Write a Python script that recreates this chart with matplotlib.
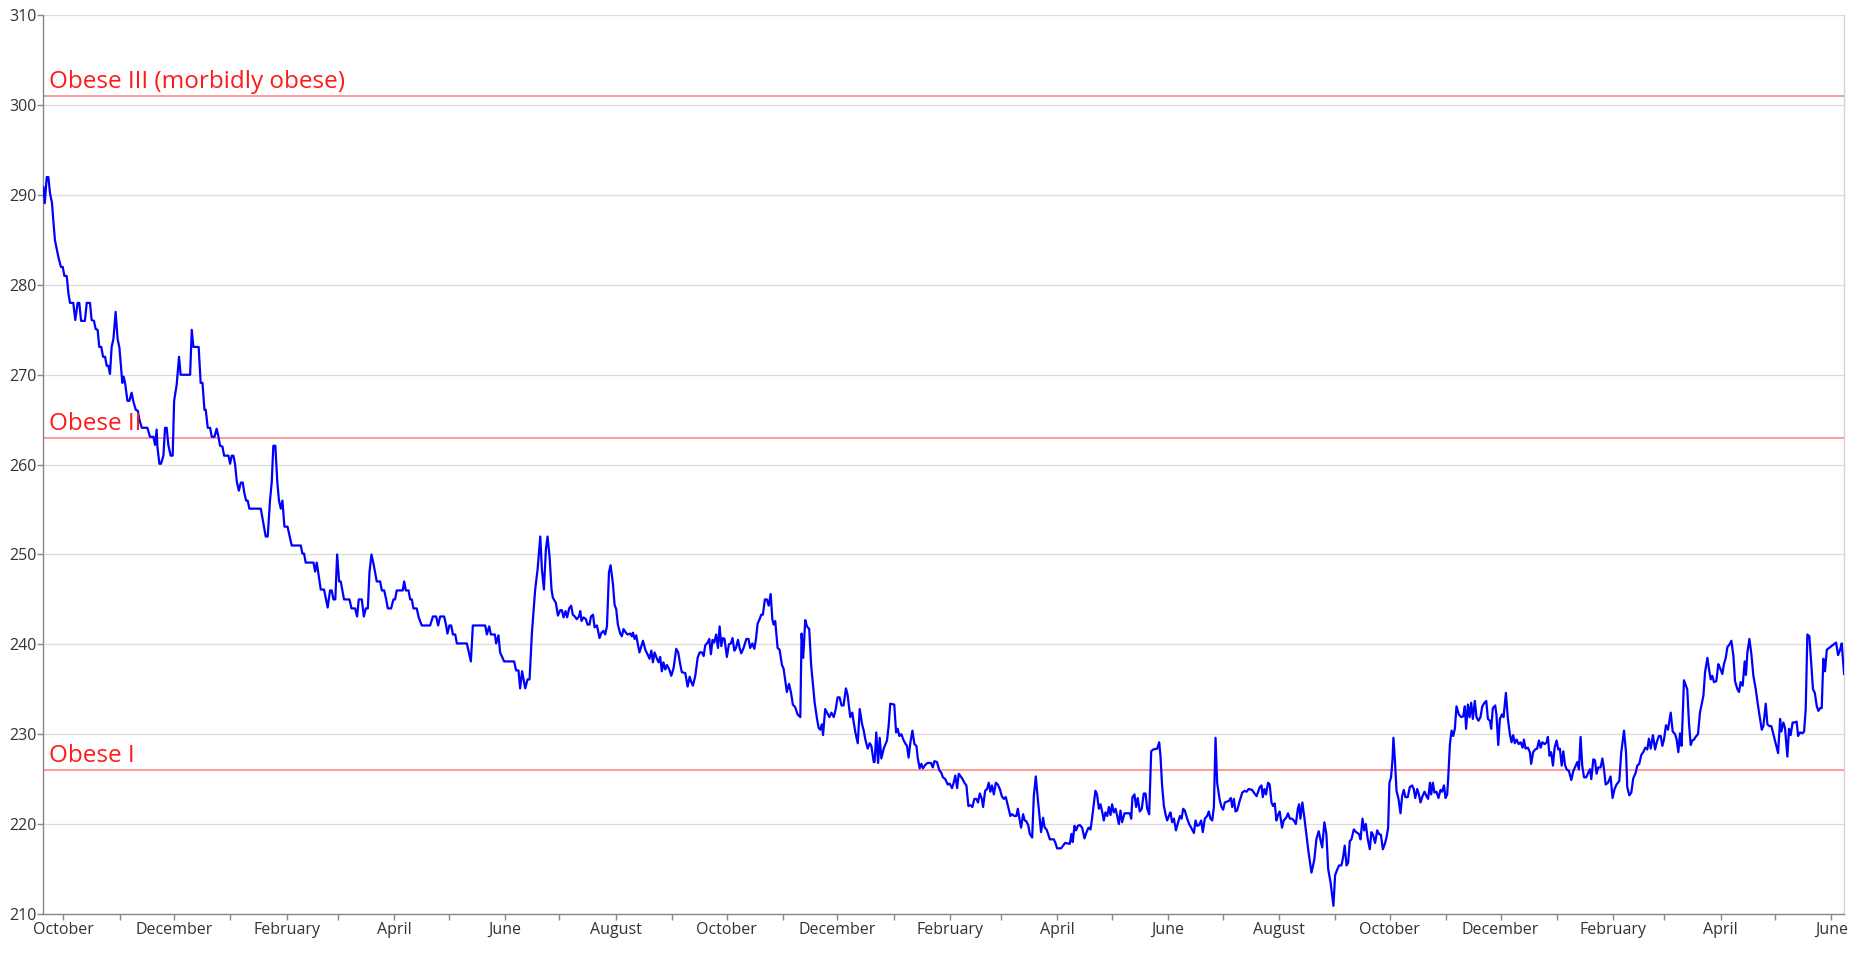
"""
Weight log over roughly three years, with the BMI obesity class
boundaries drawn as reference lines.
"""

import matplotlib
matplotlib.use('Agg')
import matplotlib.pyplot as plt
import matplotlib.dates as mdates
import pandas as pd

plt.rcParams['font.family'] = ['Open Sans', 'DejaVu Sans']

# ── Data ─────────────────────────────────────────────────────────────────────

START_DATE = "2016-09-20"

# days since START_DATE
day_offset = [
    0, 0.8, 1.9, 2.8, 3.7, 4.8, 5.5, 6.4, 8.3, 9.7, 10.7, 11.6, 12.9, 13.8, 14.7, 16.5,
    17.6, 18.9, 19.8, 20.8, 22.9, 23.9, 25.7, 26.6, 27.9, 28.8, 29.9, 30.8, 31.9, 32.9,
    34.0, 34.9, 35.8, 36.7, 37.6, 38.6, 39.8, 40.9, 41.9, 43.5, 44.2, 45.0, 46.3, 47.4,
    48.6, 49.6, 50.9, 52.0, 52.9, 54.2, 57.3, 58.7, 60.6, 61.5, 62.4, 62.8, 63.9, 64.8,
    66.1, 67.0, 67.9, 68.8, 70.1, 71.2, 72.0, 73.4, 74.7, 75.6, 80.8, 81.7, 82.6, 85.5,
    86.6, 87.6, 88.7, 89.4, 90.5, 91.8, 92.7, 94.2, 95.4, 96.4, 97.3, 98.6, 99.5, 101.9,
    102.8, 103.7, 104.6, 105.5, 106.5, 107.6, 108.7, 109.8, 110.5, 111.6, 112.5, 113.4,
    119.7, 121.1, 122.4, 123.5, 124.8, 125.7, 126.6, 127.7, 128.8, 129.7, 130.7, 131.6,
    132.7, 134.4,
    136.7, 141.7, 142.6, 143.5, 144.4, 148.7, 149.6, 150.5, 152.0, 152.7, 154.5, 155.6,
    156.5, 157.8, 158.7, 159.7, 160.7, 161.7, 162.8, 163.7, 165.5, 168.5, 169.6, 171.6,
    172.7, 173.6, 175.3, 176.4, 177.5, 178.6, 179.5, 180.6, 181.8, 183.5, 185.4, 186.3,
    187.6, 188.7, 189.6, 191.4, 192.7, 193.6, 194.5, 197.8, 198.6, 199.5, 201.0, 201.9,
    202.8, 203.7, 205.5, 206.6,
    208.3, 212.9, 214.4, 216.2, 217.3, 218.4, 220.6, 221.7, 222.4, 223.5, 224.5, 225.4,
    226.7, 227.6, 233.1, 234.2, 235.3, 236.4, 243.2, 244.1, 245.4, 246.3, 248.5, 249.2,
    250.5, 251.4, 252.7, 253.6, 259.1, 260.2, 261.5, 262.4, 263.5, 265.2, 266.5, 267.6,
    268.9, 270.7, 272.0, 273.5, 274.4, 275.5, 276.6, 277.5, 278.6, 279.7, 280.4, 282.1,
    283.2, 284.5, 285.4, 286.3, 287.4, 288.3, 289.4, 290.5, 291.4, 292.5, 293.6, 294.8,
    295.5, 296.2, 297.3, 298.6, 299.5, 300.6, 301.4, 302.5, 303.4, 304.7, 306.1, 307.2,
    308.3, 309.2, 310.2, 311.3, 312.2, 313.5, 314.4, 315.3, 316.2, 317.5, 318.4, 319.3,
    320.6, 321.5, 323.0, 323.9, 324.5, 325.4, 326.3, 327.2, 328.1,
    330.0, 331.3, 332.5, 333.6, 334.6, 335.5, 336.4, 337.7, 338.6, 339.5, 340.4, 341.3,
    342.3, 343.2, 344.5, 345.6, 346.9, 348.3, 349.4, 350.5, 351.4, 353.3, 354.6, 355.7,
    356.6, 357.5, 358.8, 360.1, 361.2, 362.5, 363.4, 364.3, 365.6, 366.5, 367.4, 368.3,
    369.2, 370.3, 371.3, 372.2, 373.1, 374.0, 374.9, 376.2, 377.3, 378.4, 379.3, 380.3,
    381.2, 382.3, 383.2, 384.1, 385.4, 386.9, 388.1, 389.0, 390.2, 391.3, 392.2, 393.1,
    394.2, 395.1, 396.0, 397.1, 398.2, 399.2, 400.3, 401.2, 401.9, 402.8, 404.1, 405.2,
    406.5, 407.4, 408.7, 409.2, 410.4, 411.5, 412.5, 413.8, 415.1, 416.6, 417.3, 418.2,
    419.3, 420.3, 421.5, 422.6, 423.6, 424.5, 425.8, 426.7, 427.6, 428.5, 429.1, 430.3,
    431.3, 432.6, 433.7, 435.0, 436.1, 437.1, 438.2, 439.3, 440.4, 441.7, 442.6, 444.1,
    445.2, 446.0, 446.9, 448.2, 449.3, 450.6, 451.5, 452.4, 453.7, 454.8, 455.7, 457.0,
    457.5, 458.4, 459.4, 460.3, 461.2, 462.5, 464.3, 465.2, 466.1, 468.3, 469.3, 470.2,
    471.1, 472.2, 473.5, 474.6, 475.3, 476.2, 477.2, 478.3, 479.4, 480.5, 481.2, 482.3,
    483.2, 484.1, 485.4, 486.7, 488.5, 489.5, 490.4, 491.8, 493.1, 494.2, 495.1, 496.4,
    497.7, 498.8, 500.1, 501.0, 501.9, 502.9, 503.8,
    505.6, 506.9, 508.0, 509.1, 510.2, 511.3, 512.4, 513.5, 514.4, 515.4, 516.5, 517.2,
    518.3, 519.4, 520.3, 521.2, 522.1, 523.1, 524.2, 525.3, 526.4, 527.5, 528.6, 529.7,
    531.0, 532.2, 533.1, 534.4, 535.5, 536.3, 537.2, 538.1, 539.2, 540.1, 541.0, 542.0,
    542.9, 544.2, 545.1, 546.2, 547.3, 548.2, 549.1, 550.2, 551.1, 552.1, 553.0, 553.9,
    555.2, 556.1, 557.0, 557.9, 560.1, 561.2, 562.3, 564.9, 565.8, 566.5, 567.5, 568.4,
    569.3, 570.4, 571.7, 573.0, 574.1, 575.2, 576.3, 577.2, 578.1, 579.0, 579.9, 580.9,
    581.8, 582.7, 583.6, 584.5, 585.5, 586.4, 587.3, 588.2, 589.1, 590.1, 591.0, 591.9,
    592.8, 593.7, 595.0, 596.5, 597.9, 598.7, 599.4, 600.5, 601.4, 602.3, 603.4, 604.5,
    605.6, 606.6, 607.5, 608.6, 609.7, 610.8, 613.0, 614.1, 614.8, 615.7, 616.7, 617.8,
    618.5, 619.6, 620.3, 621.2, 622.2, 623.3, 624.4, 625.5, 626.4, 627.3, 628.2, 629.5,
    630.6, 631.7, 633.2, 634.1, 635.0, 636.1, 637.2, 638.1, 639.2, 640.5, 641.4, 642.3,
    643.3, 644.2, 645.1, 646.0, 647.3, 648.4, 649.3, 650.2, 651.5, 652.6, 653.5, 654.3,
    655.2, 656.1, 657.0, 658.3, 659.8, 661.1, 662.2, 663.3, 665.3, 666.2, 667.7,
    669.4, 670.4, 671.1, 672.0, 672.9, 674.0, 674.9, 675.9, 676.8, 677.7, 678.6, 679.5,
    680.4, 681.7, 682.6, 684.0, 685.0, 686.0, 687.2, 688.2, 689.3, 690.4, 691.1, 691.8,
    692.9, 694.0, 695.1, 696.2, 697.2, 697.9, 698.8, 699.5, 700.6, 701.9, 702.8, 703.8,
    705.0, 706.1, 707.1, 708.4, 709.3, 710.0, 710.9, 712.0, 713.1, 714.4, 715.3, 716.2,
    717.2, 718.1, 719.0, 719.9, 721.2, 722.5, 724.0, 724.9, 726.0, 726.9, 727.8, 728.9,
    730.0, 730.9, 731.8, 732.9, 734.1, 735.0, 736.1, 737.2, 738.3, 739.2, 740.1, 740.8,
    741.7, 742.5, 743.0, 743.8, 744.7, 745.8, 746.9, 747.8, 748.7, 749.6, 750.9, 752.0,
    753.3, 754.2, 755.0, 756.1, 757.0, 757.9, 759.0, 760.1, 761.2, 762.1, 763.1, 763.8,
    764.7, 765.6, 766.7, 767.8, 768.9, 769.8, 770.8, 771.7, 772.6, 773.3, 774.1, 775.0,
    775.9, 776.8, 777.7, 779.0, 780.3, 781.4, 782.3, 783.0, 784.0, 784.9, 785.8, 786.7,
    787.8, 788.7, 789.8, 790.9, 791.9, 793.1, 794.1, 795.0, 796.1, 796.8, 797.7, 799.0,
    799.7, 800.7, 801.6, 802.7, 803.6, 804.9, 806.0, 807.1, 808.0, 808.9, 809.8, 810.8,
    811.9, 813.0, 814.1, 814.8, 815.7, 817.0, 818.1, 818.8, 819.9, 821.0, 822.1, 823.1,
    824.0, 824.9, 826.2, 827.3, 828.0, 828.9, 829.8, 830.8, 831.7, 832.8, 833.7, 834.6,
    835.6, 836.5, 837.4, 838.3, 839.6, 840.9, 842.0, 843.3, 844.2, 845.1, 846.0, 846.9,
    847.9, 849.1, 850.2, 851.2, 851.9, 853.0, 853.9, 854.8, 855.7, 857.0, 858.0, 858.9,
    859.8, 861.1, 862.5, 863.6, 864.7, 865.8, 867.3, 868.4, 869.9, 871.0, 871.7, 872.8,
    873.9, 875.0, 876.3, 877.2, 878.3, 879.4, 880.5, 881.6, 882.7, 883.6, 884.6, 885.8,
    887.0, 887.9, 889.1, 890.1, 891.0, 891.9, 893.0, 894.1, 895.6, 896.7, 898.0, 898.9,
    899.8, 900.7, 901.6, 902.9, 904.7, 905.7, 906.6, 907.5, 908.4, 909.3, 910.6, 911.7,
    912.6, 913.6, 914.5, 915.8, 916.7, 917.6, 918.5, 919.4, 920.7, 921.8, 922.7, 924.0,
    924.9, 925.9, 926.8, 927.7, 929.0, 930.1, 931.0, 932.3, 933.2, 934.1, 935.2, 936.3,
    937.0, 937.8, 938.9, 940.0, 941.1, 942.4, 943.7, 944.8, 945.7, 946.6, 947.9, 948.8,
    949.9, 951.0, 952.1, 953.4, 954.7, 955.8, 956.5, 957.6, 958.5, 959.8, 960.7, 961.6,
    962.7, 963.8, 964.9, 965.7, 966.8, 968.1, 969.0, 969.9, 970.8, 971.9, 973.0, 973.9,
    974.9, 976.0, 976.9, 977.8, 978.7, 979.6, 980.5, 981.5, 982.8, 984.0, 985.5, 986.6,
    987.7, 988.8, 989.7, 991.0,
]

# body weight, lb
weight_lb = [
    290.9, 289.1, 292, 292, 290.2, 289.1, 287.2, 285, 283.1, 282, 282, 281, 281, 279.1, 278, 278,
    276.1, 278, 278, 276, 276, 278, 278, 276.1, 276, 275.1, 275, 273.1, 273.1, 272,
    272, 271, 271, 270.1, 273.1, 274, 277, 274, 273, 269.1, 269.8, 269.1, 267.1, 267.1,
    268, 267, 266.1, 266, 265, 264.1, 264.1, 263.1, 263.1, 262.2, 263.9, 262, 260.1, 260.1,
    261, 264.1, 264.1, 262.2, 261, 261, 267.1, 268.9, 272, 270, 270, 275, 273.1, 273.1,
    269.1, 269.1, 266.1, 266.1, 264.1, 264.1, 263.1, 263.1, 264, 263.1, 262.1, 262, 261, 261,
    260.1, 261, 261, 260.1, 258.1, 257.1, 258, 258, 257, 256, 256, 255.1,
    255.1, 253.5, 252, 252, 256.1, 258, 262.1, 262.1, 258, 256, 255.1, 256,
    253.1, 253.1,
    251, 251, 250.1, 250.1, 249.1, 249.1, 248.1, 249.1, 247, 246.1, 246.1, 245,
    244.1, 246, 246, 245, 245, 250, 247, 247, 245, 245, 244, 244,
    243.1, 245, 245, 243.1, 244, 244, 248, 250, 248.9, 247, 247, 246,
    246, 245, 244, 244, 245, 245, 246, 246, 247, 246, 246, 245,
    245, 244, 244, 243,
    242.1, 242.1, 243.1, 243.1, 242.1, 243.1, 243.1, 242.1, 241.2, 242.1, 242.1, 241.1,
    241.1, 240.1, 240.1, 239.1, 238.1, 242.1, 242.1, 241.1, 242, 241.1, 241.1, 240.1,
    241, 239.1, 238.5, 238.1, 238.1, 237.1, 237.1, 235.1, 237, 235.1, 236.1, 236.1,
    241.3, 246.1, 248.3, 252, 248.3, 246.1, 250.6, 252, 249.8, 246.1, 245.2, 244.6,
    243.2, 243.8, 243.8, 243, 243.7, 243, 244, 244.3, 243.3, 243.1, 242.8, 243.1,
    243.7, 242.6, 243, 242.8, 242.2, 242.2, 243.1, 243.3, 241.9, 242.1, 240.7, 241.3,
    241.5, 241.1, 242, 248, 248.8, 246.7, 244.4, 243.9, 242.2, 241.2, 240.9, 241.7,
    241.3, 241.1, 241.2, 240.9, 241.3, 240.6, 241, 240, 239.1,
    240.4, 239.4, 238.9, 238.4, 239.3, 238, 239.1, 238.4, 238, 238.6, 237, 238,
    237.2, 237.7, 237.2, 236.5, 237.4, 239.5, 239.1, 237.8, 236.9, 236.8, 235.3, 236.4,
    235.8, 235.4, 236.5, 238.5, 239.1, 239.1, 238.7, 239.9, 240.2, 240.6, 238.9, 240.5,
    240.2, 241.1, 239.6, 242, 239.8, 240.7, 240.6, 238.6, 240, 240.1, 240.7, 239.3,
    239.6, 240.5, 239.6, 239, 239.6, 240.6, 240.6, 239.6, 240.1, 239.5, 240.6, 242.3,
    242.8, 243.3, 243.3, 245, 245, 244.3, 245.6, 242.8, 242.2, 242.6, 239.6, 239.4,
    237.7, 237.3, 235.4, 234.7, 235.6, 234.6, 233.3, 233, 232.2, 231.9, 241.2, 238.5,
    242.7, 242, 241.7, 237.6, 235.4, 233.5, 231.7, 230.7, 230.5, 231.1, 229.9, 232.8,
    232.4, 231.9, 232.4, 231.9, 232.8, 234.1, 234.1, 233.2, 233.2, 235.1, 234.4, 231.9,
    232.4, 231.3, 230.2, 229, 232.8, 231.1, 230.4, 229.4, 228.4, 229, 228.7, 226.9,
    226.9, 230.2, 226.8, 229.6, 227.3, 228.4, 229.3, 230.9, 233.4, 233.3, 230.2, 230.6,
    229.8, 230, 229.3, 228.9, 228.7, 227.4, 229.1, 230.4, 228.9, 228.7, 227.4, 226.2,
    226.7, 226.2, 226.6, 226.8, 226.8, 226.3, 227, 226.9, 226, 225.7, 225.2, 225,
    224.4, 224.5, 224, 224.6, 225.4, 224, 225.6,
    225.1, 224.6, 224.3, 222, 222.1, 221.9, 222.8, 222.8, 222.4, 223.4, 222.8, 221.9,
    223.7, 223.9, 224.6, 223.6, 224.3, 223.3, 224.6, 224.4, 223.9, 223.1, 222.8, 223,
    221.9, 220.9, 221.1, 220.9, 220.9, 221.7, 220.6, 219.6, 221.1, 220.4, 220.3, 219.9,
    218.9, 218.5, 223.1, 225.3, 222.8, 220.9, 219.1, 220.7, 219.6, 219.4, 218.9, 218.3,
    218.3, 218.3, 217.9, 217.3, 217.3, 217.6, 217.9, 217.8, 218.9, 218, 219.8, 219.3,
    219.8, 219.9, 219.6, 218.4, 219.1, 219.6, 219.4, 220.7, 222.2, 223.7, 223.3, 221.7,
    222.2, 221.4, 220.4, 221.3, 220.9, 221.9, 221, 222.2, 221.3, 221.7, 220.9, 220,
    221.5, 220.2, 221.2, 221.2, 221.2, 220.6, 223, 223.3, 221.9, 222.9, 221.4, 221.7,
    223.4, 223.4, 221.7, 221.1, 228.1, 228.3, 228.4, 229.1, 227.6, 224.3, 222, 220.9,
    220.4, 221, 221.3, 220.2, 220.6, 219.3, 220.1, 220.9, 220.6, 221.7, 221.5, 220.6,
    220, 219.6, 219, 220.4, 219.8, 219.9, 220.4, 219.1, 220.6, 220.9, 221.4, 220.6,
    220.4, 221.9, 229.6, 224.6, 222.8, 221.9, 221.6, 222.4, 222.5, 222.6, 222.9, 221.9,
    222.8, 221.4, 221.5, 222.5, 223.5, 223.7, 223.6, 223.9, 223.8, 223.5, 223.1,
    224.1, 224.3, 223, 223.9, 223.3, 224.6, 224.4, 222.4, 222, 222.3, 220.4, 221,
    221.4, 219.6, 220.4, 220.7, 221.2, 220.6, 220.6, 220.4, 220, 221.7, 222.2, 220.6,
    222.4, 220.7, 218.9, 217, 215.6, 214.6, 215.4, 216.1, 218.3, 219.2, 218.3, 217.4,
    220.2, 218.9, 215, 213.5, 212, 210.9, 214.3, 214.9, 215.4, 215.4, 216.3, 217.6,
    215.4, 215.7, 218.1, 218.3, 219.4, 219.1, 218.9, 218.3, 220.6, 219.3, 220, 218.3,
    217.2, 219.1, 218.8, 217.9, 219.3, 218.9, 218.8, 217.2, 217.8, 218.5, 219.6, 224.6,
    225.2, 227.2, 229.6, 227.2, 223.7, 222.8, 221.2, 223.1, 223.8, 223, 223, 224.1,
    224.3, 223.9, 222.9, 223.9, 223.3, 222.4, 223.1, 223.6, 223.1, 222.8, 224.6, 223.3,
    224.6, 223.5, 223.6, 222.9, 223.8, 223.6, 224.3, 222.9, 223.3, 225.7, 228.9, 230.4,
    229.8, 230.6, 233.1, 232.2, 231.9, 232, 233.1, 230.6, 233.3, 231.9, 233.5, 231.7,
    233.7, 231.9, 231.5, 231.9, 233.1, 233.5, 233.7, 231.7, 231.5, 230.6, 232.9, 233.2,
    232.2, 228.8, 231.7, 232.2, 231.9, 234.6, 231.7, 230, 229.1, 229.9, 229, 229.4,
    228.9, 229.1, 228.5, 229.4, 228.4, 228.5, 228, 226.7, 228, 228.3, 228.4, 229.3,
    228.5, 229.1, 228.9, 229.1, 229.7, 227.6, 228, 226.5, 228.5, 229.3, 228.3, 228.4,
    226.5, 228.1, 226.6, 226.1, 225.9, 224.9, 225.9, 226.5, 226.9, 226.1, 229.7, 226.5,
    225.2, 225.2, 225.7, 226.1, 225, 227.2, 227.1, 225.6, 226.3, 226.3, 227.3, 226.1,
    224.4, 224.6, 225.3, 222.9, 223.9, 224.4, 224.8, 228, 230.4, 228, 224.1, 223.2,
    223.5, 225.1, 225.7, 226.5, 226.7, 227.7, 228, 228.5, 228.3, 229.5, 228.4, 229.9,
    228.3, 229.1, 229.8, 229.8, 228.7, 229.4, 231, 230.5, 232.4, 230.3, 230, 229.4,
    228, 230.1, 228.7, 236, 235, 231.1, 228.8, 229.3, 229.4, 229.7, 230, 232.4,
    233.3, 234.3, 236.9, 238.5, 237.2, 236.1, 236.5, 235.8, 235.9, 237.8, 237.4, 236.7,
    237.8, 238.5, 239.7, 239.9, 240.4, 238.7, 235.9, 235, 234.7, 235.8, 235.4, 238.1,
    236.6, 239.1, 240.6, 238.9, 236.5, 235, 233.1, 231.7, 230.5, 230.9, 233.4, 231.1,
    230.9, 230.9, 230, 228.9, 227.9, 231.7, 230.3, 231.3, 230.7, 227.5, 230.6, 229.9,
    231.3, 231.3, 231.4, 229.8, 230.2, 230.1, 230.3, 232.8, 241.1, 240.9, 237.6, 235,
    234.6, 233.1, 232.6, 232.9, 232.9, 238.4, 237, 239.4, 239.6, 239.8, 240, 240.2,
    238.8, 239.4, 240.1, 236.7,
]

# obesity class boundaries (lb)
class_levels = [226, 263, 301]
class_labels = ["Obese I", "Obese II", "Obese III (morbidly obese)"]

# ── Plot ─────────────────────────────────────────────────────────────────────

start = mdates.date2num(pd.Timestamp(START_DATE))
x = [start + d for d in day_offset]

fig = plt.figure(figsize=(18.58, 9.6), dpi=100)
ax = fig.add_axes([0.0233, 0.048, 0.9692, 0.936])

ax.plot(x, weight_lb, color="#0000ff", linewidth=1.6, zorder=3)

for level, label in zip(class_levels, class_labels):
    ax.axhline(level, color="#ff9a9a", linewidth=1.4, zorder=2)
    ax.annotate(label, xy=(0, level), xycoords=("axes fraction", "data"),
                xytext=(6, 8), textcoords="offset pixels",
                color="#ff1a1a", fontsize=17.5, va="baseline", ha="left", zorder=4)

ax.set_xlim(start, start + 991)
ax.set_ylim(210, 310)
ax.set_yticks(range(210, 311, 10))

ax.xaxis.set_major_locator(mdates.MonthLocator(bymonth=(2, 4, 6, 8, 10, 12)))
ax.xaxis.set_major_formatter(mdates.DateFormatter("%B"))
ax.xaxis.set_minor_locator(mdates.MonthLocator())

ax.grid(axis="y", color="#dcdcdc", linewidth=0.9, zorder=1)
ax.set_axisbelow(True)

ax.tick_params(axis="both", which="both", colors="#888888", labelcolor="#333333",
               labelsize=11.5, length=4, width=1)
ax.tick_params(axis="x", which="both", pad=2)
ax.tick_params(axis="y", pad=1)

for side in ("left", "bottom"):
    ax.spines[side].set_color("#888888")
    ax.spines[side].set_linewidth(1)
ax.spines["top"].set_visible(False)
ax.spines["right"].set_color("#d6d6d6")
ax.spines["right"].set_linewidth(1)

fig.savefig("out.png", dpi=100)
